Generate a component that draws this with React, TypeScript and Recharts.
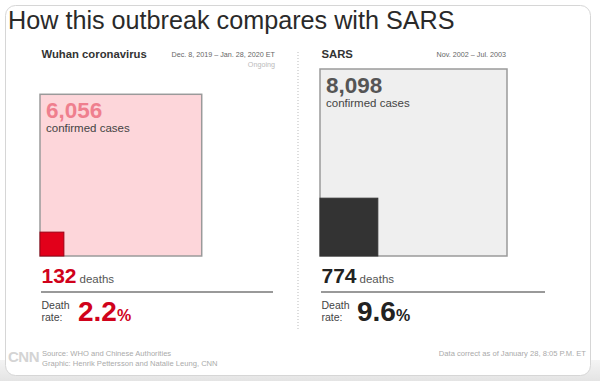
import { ScatterChart, Scatter, XAxis, YAxis, ZAxis } from 'recharts';

const outbreaks = ['Wuhan coronavirus', 'SARS'];
const periods = ['Dec. 8, 2019 – Jan. 28, 2020 ET', 'Nov. 2002 – Jul. 2003'];
const statuses = ['Ongoing', ''];
const confirmedCases = [6056, 8098];
const deathCounts = [132, 774];
const deathRates = ['2.2', '9.6'];

const MAX_CASES = Math.max(...confirmedCases);
const SIDE = 187;
const BOTTOM = 256;
const FONT = '"Liberation Sans", Arial, Helvetica, sans-serif';
// scatter size is a circle area, so this range makes the marker width sqrt-proportional
const Z_RANGE = [0, (Math.PI / 4) * SIDE * SIDE];

// look of each panel
const panels = [
  { left: 40, dateRight: 275, lineEnd: 273, rateX: 78, caseFill: '#fdd6da', caseText: '#ef7f8e', deathFill: '#e2001a', deathStroke: '#9c0014', accent: '#d0021b' },
  { left: 320, dateRight: 506, lineEnd: 545, rateX: 357, caseFill: '#efefef', caseText: '#555', deathFill: '#333', deathStroke: '#333', accent: '#222' },
];

// square anchored at the point's bottom-left corner
const squareShape = (fill: string, stroke: string, strokeWidth: number, label?: number) => (props: any) => {
  const { cx, cy, width } = props;
  if (cx == null || cy == null || !width) return <g />;
  return (
    <g>
      <rect x={cx} y={cy - width} width={width} height={width} fill={fill} stroke={stroke} strokeWidth={strokeWidth} />
      {label != null && (
        <g fontFamily={FONT}>
          <text x={cx + 6} y={cy - width + 24} fontSize={22.5} fontWeight="bold" fill={panels[label].caseText}>
            {confirmedCases[label].toLocaleString('en-US')}
          </text>
          <text x={cx + 6} y={cy - width + 38} fontSize={11.5} fill="#444">confirmed cases</text>
        </g>
      )}
    </g>
  );
};

const SquarePanel = ({ i }: { i: number }) => {
  const p = panels[i];
  const casesData = [{ x: 0, y: 0, z: confirmedCases[i] }];
  const deathsData = [{ x: 0, y: 0, z: deathCounts[i] }];
  return (
    <div style={{ position: 'absolute', left: p.left - 2, top: BOTTOM - SIDE - 2 }}>
      <ScatterChart width={SIDE + 4} height={SIDE + 4} margin={{ top: 2, right: 2, bottom: 2, left: 2 }}>
        <XAxis type="number" dataKey="x" domain={[0, 1]} hide />
        <YAxis type="number" dataKey="y" domain={[0, 1]} hide />
        <ZAxis type="number" dataKey="z" domain={[0, MAX_CASES]} range={Z_RANGE} />
        <Scatter
          name="confirmed cases"
          data={casesData}
          isAnimationActive={false}
          shape={squareShape(p.caseFill, '#9a9a9a', 1.5, i)}
        />
        <Scatter
          name="deaths"
          data={deathsData}
          isAnimationActive={false}
          shape={squareShape(p.deathFill, p.deathStroke, 1)}
        />
      </ScatterChart>
    </div>
  );
};

const App = () => {
  return (
    <div style={{ position: 'absolute', left: 0, top: 0, width: 600, height: 381, overflow: 'hidden', background: '#fff', fontFamily: FONT }}>
      <svg width={600} height={381} style={{ position: 'absolute', left: 0, top: 0 }}>
        <defs>
          <linearGradient id="floor" x1="0" y1="0" x2="0" y2="1">
            <stop offset="0" stopColor="#f4f4f4" />
            <stop offset="1" stopColor="#e4e4e4" />
          </linearGradient>
        </defs>
        <rect x={0} y={360} width={600} height={21} fill="url(#floor)" />
        <rect x={5.5} y={5.5} width={585} height={370} rx={10} fill="#fff" stroke="#d6d6d6" />
        <line x1={298} y1={52} x2={298} y2={330} stroke="#bbb" strokeDasharray="1 2" />
        {panels.map((p, i) => (
          <line key={i} x1={p.left + 1} y1={292} x2={p.lineEnd} y2={292} stroke="#999" strokeWidth={2} />
        ))}
      </svg>

      <SquarePanel i={0} />
      <SquarePanel i={1} />

      <svg width={600} height={381} style={{ position: 'absolute', left: 0, top: 0, pointerEvents: 'none' }} fontFamily={FONT}>
        <text x={8} y={29} fontSize={25.2} fill="#2a2a2a">How this outbreak compares with SARS</text>

        {panels.map((p, i) => (
          <g key={i}>
            <text x={p.left + 1.5} y={58} fontSize={11.3} fontWeight="bold" fill="#333">{outbreaks[i]}</text>
            <text x={p.dateRight} y={57} fontSize={7.2} fill="#666" textAnchor="end">{periods[i]}</text>
            {statuses[i] && (
              <text x={p.dateRight} y={67} fontSize={7.2} fill="#bbb" textAnchor="end">{statuses[i]}</text>
            )}
            <text x={p.left + 1.5} y={283} fill={p.accent}>
              <tspan fontSize={21} fontWeight="bold">{deathCounts[i]}</tspan>
              <tspan fontSize={11.5} fill="#555" dx={3}>deaths</tspan>
            </text>
            <text x={p.left + 1.5} y={309} fontSize={10.5} fill="#444">Death</text>
            <text x={p.left + 1.5} y={321} fontSize={10.5} fill="#444">rate:</text>
            <text x={p.rateX} y={321} fill={p.accent} fontWeight="bold">
              <tspan fontSize={28}>{deathRates[i]}</tspan>
              <tspan fontSize={16}>%</tspan>
            </text>
          </g>
        ))}

        <text x={8} y={362} fontSize={15} fontWeight="bold" fill="#d4d4d4" letterSpacing={-0.5}>CNN</text>
        <text x={42} y={356} fontSize={7.6} fill="#aaa">Source: WHO and Chinese Authorities</text>
        <text x={42} y={366} fontSize={7.6} fill="#aaa">Graphic: Henrik Pettersson and Natalie Leung, CNN</text>
        <text x={586} y={356} fontSize={7.6} fill="#aaa" textAnchor="end">Data correct as of January 28, 8:05 P.M. ET</text>
      </svg>
    </div>
  );
};

export default App;
